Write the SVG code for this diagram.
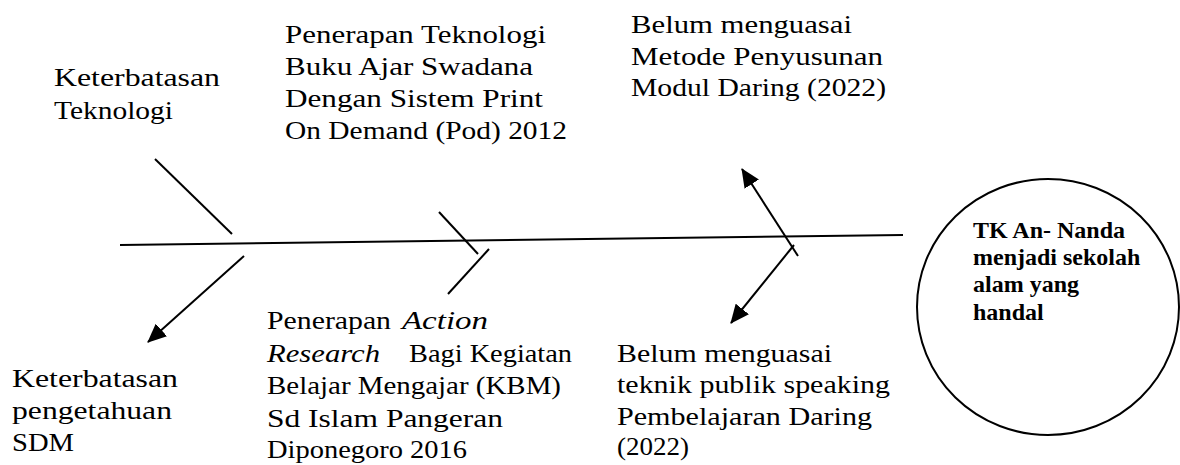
<svg xmlns="http://www.w3.org/2000/svg" width="1180" height="465" viewBox="0 0 1180 465">
  <style>
    .t { font-family: "Liberation Serif", "Times New Roman", serif; font-size: 26px; fill: #000; }
    .i { font-style: italic; }
    .b { font-family: "Liberation Serif", "Times New Roman", serif; font-weight: bold; font-size: 24px; fill: #000; }
    .ln { stroke: #000; stroke-width: 2; fill: none; }
  </style>
  <defs>
    <marker id="arr" markerUnits="userSpaceOnUse" markerWidth="19" markerHeight="17" viewBox="0 0 19 17" refX="18" refY="8.5" orient="auto">
      <path d="M0,0 L19,8.5 L0,17 Z" fill="#000"/>
    </marker>
  </defs>
  <rect width="1180" height="465" fill="#fff"/>
  <g id="connectors">
    <line class="ln" x1="120" y1="245" x2="903" y2="235"/>
    <line class="ln" x1="155" y1="159" x2="232" y2="234"/>
    <line class="ln" x1="244" y1="256" x2="148" y2="342" marker-end="url(#arr)"/>
    <line class="ln" x1="439" y1="212" x2="478" y2="254"/>
    <line class="ln" x1="489" y1="249" x2="448" y2="294"/>
    <line class="ln" x1="798" y1="256" x2="742" y2="169" marker-end="url(#arr)"/>
    <line class="ln" x1="794" y1="245" x2="731" y2="323" marker-end="url(#arr)"/>
  </g>
  <g id="n-teknologi">
    <text class="t" x="54" y="86" textLength="166" lengthAdjust="spacingAndGlyphs">Keterbatasan</text>
    <text class="t" x="54" y="119" textLength="119" lengthAdjust="spacingAndGlyphs">Teknologi</text>
  </g>
  <g id="n-penerapan-teknologi">
    <text class="t" x="285" y="43" textLength="261" lengthAdjust="spacingAndGlyphs">Penerapan Teknologi</text>
    <text class="t" x="285" y="75" textLength="248" lengthAdjust="spacingAndGlyphs">Buku Ajar Swadana</text>
    <text class="t" x="285" y="107" textLength="258" lengthAdjust="spacingAndGlyphs">Dengan Sistem Print</text>
    <text class="t" x="285" y="139" textLength="282" lengthAdjust="spacingAndGlyphs">On Demand (Pod) 2012</text>
  </g>
  <g id="n-metode">
    <text class="t" x="631" y="33" textLength="221" lengthAdjust="spacingAndGlyphs">Belum menguasai</text>
    <text class="t" x="631" y="65" textLength="252" lengthAdjust="spacingAndGlyphs">Metode Penyusunan</text>
    <text class="t" x="631" y="96" textLength="255" lengthAdjust="spacingAndGlyphs">Modul Daring (2022)</text>
  </g>
  <g id="n-sdm">
    <text class="t" x="12" y="387" textLength="166" lengthAdjust="spacingAndGlyphs">Keterbatasan</text>
    <text class="t" x="12" y="419" textLength="160" lengthAdjust="spacingAndGlyphs">pengetahuan</text>
    <text class="t" x="12" y="451" textLength="62" lengthAdjust="spacingAndGlyphs">SDM</text>
  </g>
  <g id="n-action-research">
    <text class="t" x="267" y="329" textLength="124" lengthAdjust="spacingAndGlyphs">Penerapan</text>
    <text class="t i" x="402" y="329" textLength="86" lengthAdjust="spacingAndGlyphs">Action</text>
    <text class="t i" x="267" y="362" textLength="113" lengthAdjust="spacingAndGlyphs">Research</text>
    <text class="t" x="409" y="362" textLength="163" lengthAdjust="spacingAndGlyphs">Bagi Kegiatan</text>
    <text class="t" x="267" y="394" textLength="294" lengthAdjust="spacingAndGlyphs">Belajar Mengajar (KBM)</text>
    <text class="t" x="267" y="427" textLength="236" lengthAdjust="spacingAndGlyphs">Sd Islam Pangeran</text>
    <text class="t" x="267" y="458" textLength="200" lengthAdjust="spacingAndGlyphs">Diponegoro 2016</text>
  </g>
  <g id="n-speaking">
    <text class="t" x="617" y="362" textLength="215" lengthAdjust="spacingAndGlyphs">Belum menguasai</text>
    <text class="t" x="617" y="393" textLength="273" lengthAdjust="spacingAndGlyphs">teknik publik speaking</text>
    <text class="t" x="617" y="425" textLength="255" lengthAdjust="spacingAndGlyphs">Pembelajaran Daring</text>
    <text class="t" x="617" y="455" textLength="72" lengthAdjust="spacingAndGlyphs">(2022)</text>
  </g>
  <g id="n-goal">
    <ellipse cx="1048" cy="307" rx="131" ry="128" class="ln"/>
    <text class="b" x="973" y="238">TK An- Nanda</text>
    <text class="b" x="973" y="265">menjadi sekolah</text>
    <text class="b" x="973" y="292">alam yang</text>
    <text class="b" x="973" y="320">handal</text>
  </g>
</svg>
